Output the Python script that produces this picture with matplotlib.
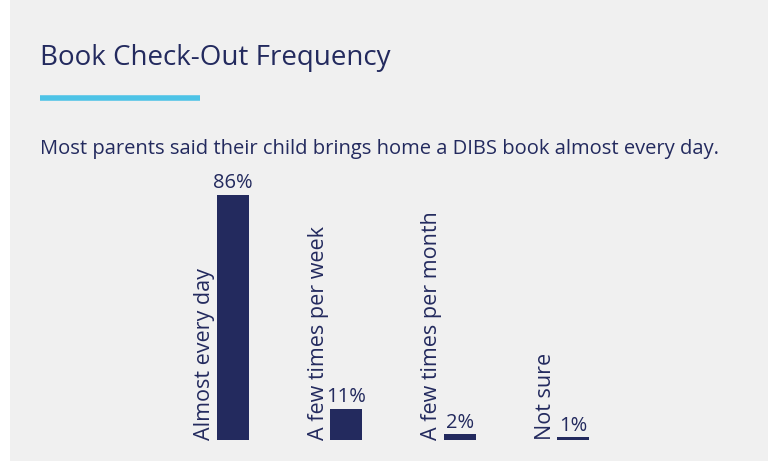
import matplotlib.pyplot as plt
from matplotlib.patches import Rectangle
from matplotlib.lines import Line2D

categories = ['Almost every day', 'A few times per week', 'A few times per month', 'Not sure']
values = [86, 11, 2, 1]
value_labels = ['86%', '11%', '2%', '1%']

navy = '#232a5e'
cyan = '#4dc3e6'
panel = '#f0f0f0'
font = 'Open Sans'

fig = plt.figure(figsize=(7.68, 4.61), dpi=100)
fig.patch.set_facecolor('white')
fig.patches.append(Rectangle((10 / 768, 0), 1, 1, transform=fig.transFigure,
                             facecolor=panel, edgecolor='none', zorder=-10))

fig.text(40 / 768, 1 - 58 / 461, 'Book Check-Out Frequency', fontsize=20,
         color=navy, family=font, va='center', ha='left')
fig.lines.append(Line2D([40 / 768, 200 / 768], [1 - 98.5 / 461] * 2,
                        transform=fig.transFigure, color=cyan, lw=4,
                        solid_capstyle='butt'))
fig.text(40 / 768, 1 - 149 / 461,
         'Most parents said their child brings home a DIBS book almost every day.',
         fontsize=14.5, color=navy, family=font, va='center', ha='left')

ax = fig.add_axes([176 / 768, 21 / 461, 454 / 768, 285 / 461])
ax.set_facecolor('none')
x = range(len(categories))
bw = 0.28
ax.bar(x, values, width=bw, color=navy)
ax.set_xlim(-0.5, 3.5)
ax.set_ylim(0, 100)
ax.axis('off')

for i, (c, v, lab) in enumerate(zip(categories, values, value_labels)):
    ax.text(i - bw / 2 - 0.015, 0, c, rotation=90, ha='right', va='bottom',
            fontsize=15.5, color=navy, family=font)
    ax.text(i, v + 0.5, lab, ha='center', va='bottom', fontsize=14.5,
            color=navy, family=font)

fig.savefig('out.png', dpi=100, facecolor=fig.get_facecolor())
